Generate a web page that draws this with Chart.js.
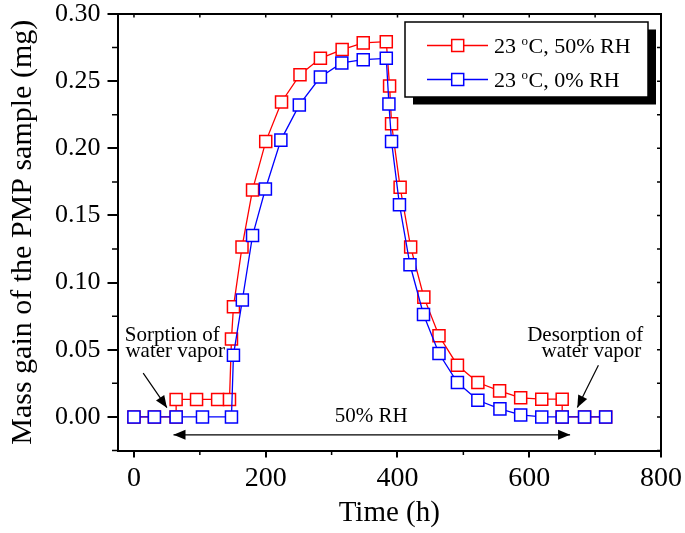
<!DOCTYPE html>
<html><head><meta charset="utf-8">
<script src="https://cdn.jsdelivr.net/npm/chart.js@4.4.1/dist/chart.umd.min.js"></script>
<style>html,body{margin:0;padding:0;background:#fff;}#wrap{width:685px;height:533px;position:relative;}</style>
</head><body><div id="wrap"><canvas id="c" width="685" height="533"></canvas></div>
<script>
// ---- data (time in h, mass gain in mg) ----
const time50 = [0, 31, 64, 64, 95, 127, 145, 148, 151, 164, 180, 200, 224, 252, 283, 316, 348, 383, 388, 391, 404, 420, 440, 463, 491, 522, 555, 587, 619, 650, 650, 684, 716];
const mass50 = [0, 0, 0, 0.013, 0.013, 0.013, 0.013, 0.058, 0.082, 0.1265, 0.169, 0.205, 0.2345, 0.2548, 0.267, 0.2735, 0.2785, 0.2794, 0.2464, 0.2183, 0.171, 0.1265, 0.0892, 0.0604, 0.0385, 0.0256, 0.0194, 0.0142, 0.0132, 0.0132, 0, 0, 0];
const time0 = [0, 31, 64, 104, 148, 151, 164.5, 180, 199.5, 223, 251, 283, 315.5, 348, 383, 387, 391, 403, 419, 439.5, 463, 491, 522, 555.5, 587, 619, 650, 684, 716];
const mass0 = [0, 0, 0, 0, 0, 0.046, 0.087, 0.135, 0.1697, 0.2061, 0.2323, 0.2531, 0.2636, 0.266, 0.267, 0.233, 0.205, 0.158, 0.1133, 0.0763, 0.0472, 0.0256, 0.0124, 0.006, 0.0015, 0, 0, 0, 0];
const seriesLabels = ['23 °C, 50% RH', '23 °C, 0% RH'];
const xTickValues = [0, 200, 400, 600, 800];
const yTickValues = [0, 0.05, 0.10, 0.15, 0.20, 0.25, 0.30];
const xMinorValues = [100, 300, 500, 700];
const yMinorValues = [-0.025, 0.025, 0.075, 0.125, 0.175, 0.225, 0.275];
const xTopValues = [0, 100, 200, 300, 400, 500, 600, 700, 800];
const yRightValues = [-0.025, 0, 0.025, 0.05, 0.075, 0.10, 0.125, 0.15, 0.175, 0.20, 0.225, 0.25, 0.275, 0.30];
// annotations in data coordinates
const notes = [
  {text: 'Sorption of', x: -14, y: 0.0566, align: 'left'},
  {text: 'water vapor', x: -13, y: 0.0447, align: 'left'},
  {text: 'Desorption of', x: 773, y: 0.0566, align: 'right'},
  {text: 'water vapor', x: 770, y: 0.0447, align: 'right'},
  {text: '50% RH', x: 360, y: -0.004, align: 'center'}
];
const arrows = [
  {x1: 14, y1: 0.0326, x2: 50, y2: 0.0069, both: false},
  {x1: 705, y1: 0.0385, x2: 673, y2: 0.0070, both: false},
  {x1: 60, y1: -0.0133, x2: 662, y2: -0.0133, both: true}
];

const FONT = "'Liberation Serif','Times New Roman',serif";
const RED = '#ff0000', BLUE = '#0000ff';

function drawHead(ctx, x1, y1, x2, y2) {
  const a = Math.atan2(y2 - y1, x2 - x1), L = 12, W = 5;
  ctx.beginPath();
  ctx.moveTo(x2, y2);
  ctx.lineTo(x2 - L * Math.cos(a) + W * Math.sin(a), y2 - L * Math.sin(a) - W * Math.cos(a));
  ctx.lineTo(x2 - L * Math.cos(a) - W * Math.sin(a), y2 - L * Math.sin(a) + W * Math.cos(a));
  ctx.closePath();
  ctx.fill();
}

const decor = {
  id: 'decor',
  beforeDraw(chart) {
    const ctx = chart.ctx;
    ctx.save(); ctx.fillStyle = '#fff'; ctx.fillRect(0, 0, chart.width, chart.height); ctx.restore();
  },
  afterDraw(chart) {
    const ctx = chart.ctx, a = chart.chartArea, xs = chart.scales.x, ys = chart.scales.y;
    ctx.save();
    ctx.strokeStyle = '#000'; ctx.fillStyle = '#000';
    // frame top/right
    ctx.lineWidth = 2;
    ctx.beginPath();
    ctx.moveTo(a.left - 1, a.top); ctx.lineTo(a.right, a.top); ctx.lineTo(a.right, a.bottom + 1);
    ctx.stroke();
    // minor ticks outside
    ctx.lineWidth = 1.5;
    ctx.beginPath();
    xMinorValues.forEach(v => { const px = xs.getPixelForValue(v); ctx.moveTo(px, a.bottom); ctx.lineTo(px, a.bottom + 4.5); });
    yMinorValues.forEach(v => { const py = ys.getPixelForValue(v); ctx.moveTo(a.left, py); ctx.lineTo(a.left - 5.5, py); });
    // inward ticks top and right
    xTopValues.forEach(v => { const px = xs.getPixelForValue(v); ctx.moveTo(px, a.top); ctx.lineTo(px, a.top + 3.5); });
    yRightValues.forEach(v => { const py = ys.getPixelForValue(v); ctx.moveTo(a.right, py); ctx.lineTo(a.right - 4, py); });
    ctx.stroke();
    // annotations
    ctx.font = '21px ' + FONT;
    ctx.textBaseline = 'alphabetic';
    notes.forEach(n => { ctx.textAlign = n.align; ctx.fillText(n.text, xs.getPixelForValue(n.x), ys.getPixelForValue(n.y)); });
    ctx.lineWidth = 1.2;
    arrows.forEach(r => {
      const x1 = xs.getPixelForValue(r.x1), y1 = ys.getPixelForValue(r.y1);
      const x2 = xs.getPixelForValue(r.x2), y2 = ys.getPixelForValue(r.y2);
      ctx.beginPath(); ctx.moveTo(x1, y1); ctx.lineTo(x2, y2); ctx.stroke();
      drawHead(ctx, x1, y1, x2, y2);
      if (r.both) drawHead(ctx, x2, y2, x1, y1);
    });
    // legend
    const bx = a.right - 256, by = a.top + 8, bw = 243, bh = 75;
    ctx.fillStyle = '#000'; ctx.fillRect(bx + 8, by + 7.5, bw, bh);
    ctx.fillStyle = '#fff'; ctx.fillRect(bx, by, bw, bh);
    ctx.lineWidth = 1.5; ctx.strokeStyle = '#000'; ctx.strokeRect(bx, by, bw, bh);
    chart.data.datasets.forEach((ds, i) => {
      const ry = by + 23.5 + i * 34;
      ctx.strokeStyle = ds.borderColor; ctx.lineWidth = 1.5;
      ctx.beginPath(); ctx.moveTo(bx + 22, ry); ctx.lineTo(bx + 83, ry); ctx.stroke();
      ctx.fillStyle = '#fff'; ctx.fillRect(bx + 46.7, ry - 6, 12, 12);
      ctx.strokeRect(bx + 46.7, ry - 6, 12, 12);
      // label with superscript degree "o"
      const lab = seriesLabels[i];
      const k = lab.indexOf('°');
      const pre = lab.slice(0, k), post = lab.slice(k + 1);
      let tx = bx + 89; const base = ry + 7.5;
      ctx.fillStyle = '#000'; ctx.textAlign = 'left';
      ctx.font = '22px ' + FONT; ctx.fillText(pre, tx, base); tx += ctx.measureText(pre).width;
      ctx.font = '13px ' + FONT; ctx.fillText('o', tx, base - 8); tx += ctx.measureText('o').width + 0.5;
      ctx.font = '22px ' + FONT; ctx.fillText(post, tx, base);
    });
    ctx.restore();
  }
};

function pts(t, m) { return t.map((v, i) => ({x: v, y: m[i]})); }
function dsStyle(color, order) {
  return {borderColor: color, pointBorderColor: color, pointBackgroundColor: '#fff', pointStyle: 'rect',
    pointRadius: 8.5, pointBorderWidth: 1.5, borderWidth: 1.3, showLine: true, order: order, clip: false};
}

new Chart(document.getElementById('c'), {
  type: 'scatter',
  data: {datasets: [
    Object.assign({label: seriesLabels[0], data: pts(time50, mass50)}, dsStyle(RED, 1)),
    Object.assign({label: seriesLabels[1], data: pts(time0, mass0)}, dsStyle(BLUE, 0))
  ]},
  options: {
    responsive: false, devicePixelRatio: 1, animation: false,
    layout: {padding: {top: 14, right: 24, left: 0, bottom: 0}},
    plugins: {legend: {display: false}, tooltip: {enabled: false}},
    scales: {
      x: {type: 'linear', min: -25, max: 800,
        afterBuildTicks: s => { s.ticks = xTickValues.map(v => ({value: v})); },
        afterFit: s => { s.height = 82.5; s.paddingLeft = 0; s.paddingRight = 0; },
        ticks: {font: {family: FONT, size: 28}, color: '#000', padding: 4, maxRotation: 0, autoSkip: false},
        grid: {drawOnChartArea: false, tickLength: 7, color: '#000', lineWidth: 2},
        border: {color: '#000', width: 2},
        title: {display: true, text: 'Time (h)', color: '#000', font: {family: FONT, size: 29}, padding: {top: 0, bottom: 2}}
      },
      y: {type: 'linear', min: -0.025, max: 0.30,
        afterBuildTicks: s => { s.ticks = yTickValues.map(v => ({value: v})); },
        afterFit: s => { s.width = 117.5; s.paddingTop = 0; s.paddingBottom = 0; },
        ticks: {font: {family: FONT, size: 26, lineHeight: 1}, color: '#000', padding: 7, callback: v => v.toFixed(2)},
        grid: {drawOnChartArea: false, tickLength: 10, color: '#000', lineWidth: 2},
        border: {color: '#000', width: 2},
        title: {display: true, text: 'Mass gain of the PMP sample (mg)', color: '#000', font: {family: FONT, size: 30}, padding: {top: 5, bottom: 0}}
      }
    }
  },
  plugins: [decor]
});
</script></body></html>
